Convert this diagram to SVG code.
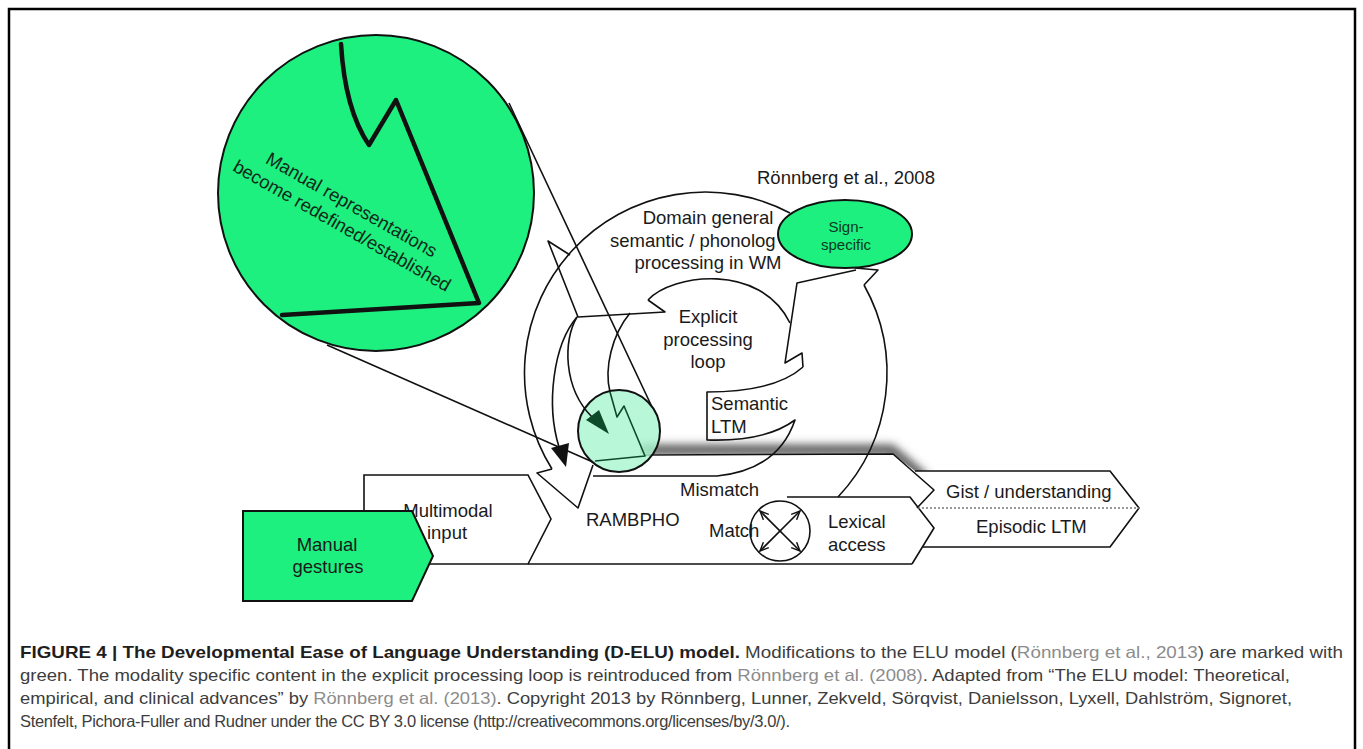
<svg xmlns="http://www.w3.org/2000/svg" width="1363" height="749" viewBox="0 0 1363 749">
<defs>
<style>
.ln{fill:none;stroke:#111;stroke-width:1.6;stroke-linejoin:round}
.dg{fill:none;stroke:#0d4a2a;stroke-width:1.6;stroke-linejoin:round}
.t{font-family:"Liberation Sans",Arial,sans-serif;font-size:18.5px;fill:#1a1a1a}
.tm{text-anchor:middle}
.cap{font-family:"Liberation Sans",Arial,sans-serif;font-size:16.5px;fill:#3d3d3d}
.capb{font-weight:bold;fill:#1e1e1e}
.lnk{fill:#8c8c8c}
.grn{fill:#1ef080;stroke:#111;stroke-width:2}
</style>
<filter id="blur" x="-20%" y="-100%" width="140%" height="300%"><feGaussianBlur stdDeviation="4.5"/></filter>
<clipPath id="shclip"><polygon points="640,415 905,415 975,471 915,471 893,454 640,454"/></clipPath>
<marker id="v" viewBox="0 0 10 10" refX="9" refY="5" markerWidth="6" markerHeight="6" orient="auto-start-reverse"><path d="M0,1 L9,5 L0,9" fill="none" stroke="#111" stroke-width="1.5"/></marker>
</defs>
<rect width="1363" height="749" fill="#fff"/>
<path d="M9,749 V9 H1355 V749" fill="none" stroke="#000" stroke-width="2.5"/>

<g id="shadow" clip-path="url(#shclip)"><path d="M640,450 L891,450 L924,478" fill="none" stroke="#4a4a4a" stroke-opacity="0.9" stroke-width="11" filter="url(#blur)"/></g>

<g id="multimodal-input">
<path d="M364,475 H528 L551,519 L528,564 H364 Z" fill="#fff" stroke="#111" stroke-width="1.6"/>
<text class="t tm" x="448" y="517">Multimodal</text>
<text class="t tm" x="447" y="539">input</text>
</g>

<g id="manual-gestures">
<path d="M243,511 H412 L433,556 L412,601 H243 Z" class="grn"/>
<text class="t tm" x="327" y="551">Manual</text>
<text class="t tm" x="328" y="573">gestures</text>
</g>

<g id="connectors">
<path class="ln" d="M790,213 A181,181 0 0 0 552,469"/>
<path class="ln" d="M864,285 A181,181 0 0 1 838,497"/>
<path class="ln" d="M856,270 L797,283 L785,363 L802,353 L803,367"/>
<path class="ln" d="M855,268 L878,270 L864,285"/>
<path class="ln" d="M570,255 L548,241 L578,317 L665,312 L648,300"/>
<path class="ln" d="M648,300 C672,274 760,262 790,323"/>
<path class="ln" d="M803,367 Q775,392 707,392 L707,440 Q765,442 795,420 Q778,470 717,476 L593,476"/>
<path class="ln" d="M577,317 C553,345 546,405 559,447"/>
<polygon points="551,448 569,443 566,467" fill="#111"/>
<path class="ln" d="M630,313 C612,335 604,368 610,392"/>
<path class="ln" d="M552,469 L537,473 L578,508 L593,465"/>
<path class="ln" d="M528,564 H912"/>
<line class="ln" x1="509" y1="103" x2="652" y2="407"/>
<line class="ln" x1="327" y1="345" x2="595" y2="463"/>
<path class="ln" d="M645,455 L893,454 L934,490 L917,508"/>
</g>

<g id="small-circle">
<circle cx="619" cy="431" r="41" fill="#a8f5cf" fill-opacity="0.8" stroke="#111" stroke-width="2"/>
<path class="dg" d="M610,392 L617,417 L624,406 L645,456 L595,461"/>
<path class="ln" d="M577,317 C563,340 563,388 592,417"/>
<polygon points="586,420 599,410 609,434" fill="#0d4a2a"/>
</g>

<g id="lexical-access">
<path class="ln" d="M787,497 H910 L934,528 L912,564"/>
<text class="t" x="828" y="528">Lexical</text>
<text class="t" x="828" y="551">access</text>
</g>

<g id="gist">
<path class="ln" d="M915,471 H1110 L1139,508 L1110,547 H923"/>
<path d="M918,508 H1139" fill="none" stroke="#777" stroke-width="1.5" stroke-dasharray="2 2"/>
<text class="t" x="946" y="498">Gist / understanding</text>
<text class="t" x="976" y="533">Episodic LTM</text>
</g>

<g id="match">
<circle cx="780" cy="531" r="30" class="ln"/>
<line class="ln" x1="760" y1="511" x2="800" y2="551" marker-start="url(#v)" marker-end="url(#v)"/>
<line class="ln" x1="800" y1="511" x2="760" y2="551" marker-start="url(#v)" marker-end="url(#v)"/>
<text class="t" x="709" y="537">Match</text>
</g>

<g id="labels">
<text class="t" x="586" y="526">RAMBPHO</text>
<text class="t" x="680" y="496">Mismatch</text>
<text class="t tm" x="708" y="323">Explicit</text>
<text class="t tm" x="708" y="346">processing</text>
<text class="t tm" x="708" y="368">loop</text>
<text class="t" x="711" y="410">Semantic</text>
<text class="t" x="711" y="433">LTM</text>
<text class="t tm" x="708" y="224">Domain general</text>
<text class="t" x="610" y="247">semantic / phonolog</text>
<text class="t tm" x="708" y="269">processing in WM</text>
<text class="t" x="757" y="184">Rönnberg et al., 2008</text>
</g>

<g id="sign-specific">
<ellipse cx="845" cy="234" rx="67" ry="34" class="grn"/>
<text class="t tm" x="846" y="232" style="font-size:15px;fill:#0b3a1e">Sign-</text>
<text class="t tm" x="846" y="250" style="font-size:15px;fill:#0b3a1e">specific</text>
</g>

<g id="zoom-circle">
<circle cx="376" cy="193" r="158" class="grn"/>
<path d="M341,44 Q345,110 369,145 L396,100 L479,303 L282,315" fill="none" stroke="#111" stroke-width="4.5" stroke-linejoin="round" stroke-linecap="round"/>
<g transform="translate(347,215) rotate(29.6)" class="t tm" style="fill:#0f2a18">
<text x="-1" y="-5">Manual representations</text>
<text x="1" y="18">become redefined/established</text>
</g>
</g>

<g id="caption">
<text class="cap" x="20" y="658" textLength="1323" lengthAdjust="spacingAndGlyphs"><tspan class="capb">FIGURE 4 | The Developmental Ease of Language Understanding (D-ELU) model.</tspan> Modifications to the ELU model (<tspan class="lnk">Rönnberg et al., 2013</tspan>) are marked with</text>
<text class="cap" x="20" y="681" textLength="1270" lengthAdjust="spacingAndGlyphs">green. The modality specific content in the explicit processing loop is reintroduced from <tspan class="lnk">Rönnberg et al. (2008)</tspan>. Adapted from “The ELU model: Theoretical,</text>
<text class="cap" x="20" y="704" textLength="1272" lengthAdjust="spacingAndGlyphs">empirical, and clinical advances” by <tspan class="lnk">Rönnberg et al. (2013)</tspan>. Copyright 2013 by Rönnberg, Lunner, Zekveld, Sörqvist, Danielsson, Lyxell, Dahlström, Signoret,</text>
<text class="cap" x="20" y="727" textLength="770" lengthAdjust="spacing">Stenfelt, Pichora-Fuller and Rudner under the CC BY 3.0 license (http://creativecommons.org/licenses/by/3.0/).</text>
</g>
</svg>
